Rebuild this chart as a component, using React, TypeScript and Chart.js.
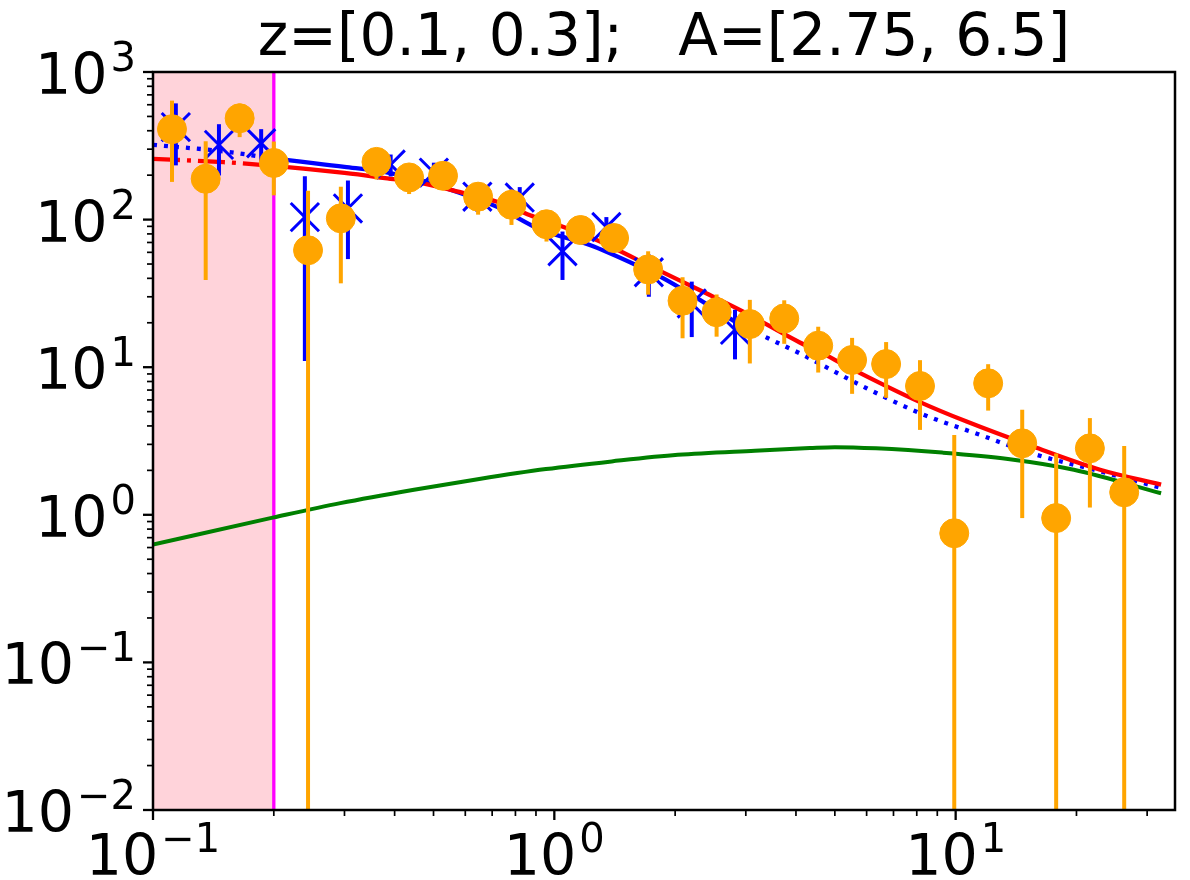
import { useEffect, useRef } from "react";
import { Chart, registerables } from "chart.js";
import type { Plugin } from "chart.js";

Chart.register(...registerables);

const TITLE = "z=[0.1, 0.3];   A=[2.75, 6.5]";
const FONT = '"DejaVu Sans", sans-serif';

const X_MIN = 0.1;
const X_MAX = 35.2;
const Y_MIN = 0.01;
const Y_MAX = 1000;
const FIT_MIN = 0.2; // shaded region ends here (magenta line)
const BLUE_FIT_MAX = 3.0; // blue model drawn solid inside [FIT_MIN, BLUE_FIT_MAX]

// measured profile (orange circles), symmetric errors
const orangeX = [0.1115, 0.1353, 0.1644, 0.2, 0.2434, 0.2938, 0.3605, 0.4347, 0.528, 0.6457, 0.782, 0.956, 1.162, 1.409, 1.713, 2.087, 2.537, 3.07, 3.74, 4.545, 5.52, 6.71, 8.15, 9.92, 12.05, 14.65, 17.8, 21.6, 26.3];
const orangeY = [410, 189, 486, 242, 62, 102, 246, 193, 198, 143, 126, 93, 85, 75, 46, 28.2, 23.6, 19.6, 21.4, 14.0, 11.2, 10.5, 7.46, 0.75, 7.78, 3.05, 0.95, 2.82, 1.42];
const orangeErr = [230, 150, 124, 96, 95, 65, 59, 44, 30, 35, 34, 22, 15, 12, 15, 12.5, 7.5, 9, 7, 4.8, 4.6, 4.3, 3.7, 2.72, 2.7, 2.1, 1.65, 1.7, 1.5];

// second profile (blue crosses)
const blueX = [0.114, 0.146, 0.186, 0.239, 0.306, 0.391, 0.501, 0.643, 0.82, 1.048, 1.348, 1.72, 2.2, 2.82];
const blueY = [423, 321, 329, 104, 119, 236, 208, 143, 141, 61, 89, 44, 27, 17.9];
const blueErr = [190, 122, 81, 93, 65, 40, 35, 30, 25, 22, 15, 14, 11, 6.6];

// model curves
const redX = [0.1, 0.15, 0.2, 0.3, 0.374, 0.46, 0.58, 0.72, 0.87, 1.0, 1.27, 1.8, 2.39, 2.955, 4.09, 4.54, 5.45, 8.15, 10.65, 15.6, 22.9, 32.5];
const redY = [258, 245, 231, 207, 192, 178, 154, 132, 107, 94, 73, 46, 31.7, 23.8, 14.7, 12.9, 9.9, 5.8, 4.28, 2.9, 2.02, 1.6];

const blueModelX = [0.1, 0.15, 0.2, 0.3, 0.374, 0.47, 0.58, 0.72, 0.92, 1.23, 1.63, 1.87, 2.31, 3.0, 3.41, 4.09, 6.0, 8.15, 11.5, 15.6, 22.9, 32.5];
const blueModelY = [321, 290, 260, 228, 211, 183, 152, 122, 86, 67, 48, 40, 28.5, 18.5, 15.7, 12.4, 7.2, 4.88, 3.48, 2.59, 1.97, 1.52];

const greenX = [0.1, 0.2, 0.293, 0.447, 0.65, 0.953, 1.39, 2.03, 3.16, 4.33, 5.0, 6.33, 9.25, 13.5, 19.7, 32.5];
const greenY = [0.628, 0.96, 1.2, 1.48, 1.75, 2.04, 2.3, 2.55, 2.72, 2.83, 2.87, 2.82, 2.64, 2.39, 2.02, 1.4];

// axis ticks
const xMajorTicks = [0.1, 1, 10];
const xTickExponents = ["\u22121", "0", "1"];
const yMajorTicks = [0.01, 0.1, 1, 10, 100, 1000];
const yTickExponents = ["\u22122", "\u22121", "0", "1", "2", "3"];
const minorSteps = [2, 3, 4, 5, 6, 7, 8, 9];

const ORANGE = "#ffa500";
const BLUE = "#0000ff";
const RED = "#ff0000";
const GREEN = "#008000";

const pts = (xs: number[], ys: number[]) => xs.map((x, i) => ({ x, y: ys[i] }));

const errorSets: Record<string, { err: number[]; color: string }> = {
  data: { err: orangeErr, color: ORANGE },
  data2: { err: blueErr, color: BLUE },
};

const backdrop: Plugin<"scatter"> = {
  id: "backdrop",
  beforeDatasetsDraw(chart) {
    const { ctx, chartArea: a, scales } = chart;
    const xr = scales.x.getPixelForValue(FIT_MIN);
    ctx.save();
    ctx.fillStyle = "rgba(255,192,203,0.7)";
    ctx.fillRect(a.left, a.top, xr - a.left, a.bottom - a.top);
    ctx.strokeStyle = "#ff00ff";
    ctx.lineWidth = 3.3;
    ctx.beginPath();
    ctx.moveTo(xr, a.top);
    ctx.lineTo(xr, a.bottom);
    ctx.stroke();
    ctx.restore();
  },
};

const errorBars: Plugin<"scatter"> = {
  id: "errorBars",
  beforeDatasetDraw(chart, args) {
    const ds = chart.data.datasets[args.index];
    const set = errorSets[ds.label as string];
    if (!set) return;
    const { ctx, chartArea: a, scales } = chart;
    ctx.save();
    ctx.beginPath();
    ctx.rect(a.left, a.top, a.right - a.left, a.bottom - a.top);
    ctx.clip();
    ctx.strokeStyle = set.color;
    ctx.lineWidth = 4;
    (ds.data as { x: number; y: number }[]).forEach((p, i) => {
      const px = scales.x.getPixelForValue(p.x);
      const lo = p.y - set.err[i];
      const top = scales.y.getPixelForValue(p.y + set.err[i]);
      const bot = lo > 0 ? scales.y.getPixelForValue(lo) : a.bottom;
      ctx.beginPath();
      ctx.moveTo(px, top);
      ctx.lineTo(px, bot);
      ctx.stroke();
    });
    ctx.restore();
  },
};

function drawPow(ctx: CanvasRenderingContext2D, exp: string, x: number, y: number, align: "center" | "right") {
  const baseFont = `57px ${FONT}`;
  const expFont = `40px ${FONT}`;
  ctx.font = baseFont;
  const wb = ctx.measureText("10").width;
  ctx.font = expFont;
  const we = ctx.measureText(exp).width;
  const gap = 3;
  const total = wb + gap + we;
  const x0 = align === "center" ? x - total / 2 : x - total;
  ctx.textAlign = "left";
  ctx.textBaseline = "alphabetic";
  ctx.font = baseFont;
  ctx.fillText("10", x0, y);
  ctx.font = expFont;
  ctx.fillText(exp, x0 + wb + gap, y - 23);
}

const axesDecor: Plugin<"scatter"> = {
  id: "axesDecor",
  afterDraw(chart) {
    const { ctx, chartArea: a, scales } = chart;
    const seg = (x1: number, y1: number, x2: number, y2: number) => {
      ctx.beginPath();
      ctx.moveTo(x1, y1);
      ctx.lineTo(x2, y2);
      ctx.stroke();
    };
    ctx.save();
    ctx.strokeStyle = "#000";
    ctx.fillStyle = "#000";

    // minor ticks
    ctx.lineWidth = 1.7;
    xMajorTicks.forEach((d) =>
      minorSteps.forEach((m) => {
        const v = d * m;
        if (v <= X_MIN || v >= X_MAX) return;
        const px = scales.x.getPixelForValue(v);
        seg(px, a.bottom, px, a.bottom + 6);
      })
    );
    yMajorTicks.forEach((d) =>
      minorSteps.forEach((m) => {
        const v = d * m;
        if (v <= Y_MIN || v >= Y_MAX) return;
        const py = scales.y.getPixelForValue(v);
        seg(a.left, py, a.left - 6, py);
      })
    );

    // major ticks + labels
    ctx.lineWidth = 2.3;
    xMajorTicks.forEach((v, i) => {
      const px = scales.x.getPixelForValue(v);
      seg(px, a.bottom, px, a.bottom + 10);
      drawPow(ctx, xTickExponents[i], px, a.bottom + 65, "center");
    });
    yMajorTicks.forEach((v, i) => {
      const py = scales.y.getPixelForValue(v);
      seg(a.left, py, a.left - 10, py);
      drawPow(ctx, yTickExponents[i], a.left - 17, py + 22, "right");
    });

    // frame
    ctx.lineWidth = 2.5;
    ctx.strokeRect(a.left, a.top, a.right - a.left, a.bottom - a.top);

    // title
    ctx.font = `58px ${FONT}`;
    ctx.textAlign = "center";
    ctx.textBaseline = "alphabetic";
    ctx.fillText(TITLE, (a.left + a.right) / 2, 55);
    ctx.restore();
  },
};

export default function App() {
  const canvasRef = useRef<HTMLCanvasElement>(null);

  useEffect(() => {
    const canvas = canvasRef.current;
    if (!canvas) return;

    const dashed = (ctx: any) => (ctx.p1.parsed.x <= FIT_MIN + 1e-9 ? [27, 7, 4, 7] : undefined);
    const dotted = (ctx: any) =>
      ctx.p1.parsed.x <= FIT_MIN + 1e-9 || ctx.p0.parsed.x >= BLUE_FIT_MAX - 1e-9 ? [4, 7] : undefined;

    const curve = {
      showLine: true,
      pointRadius: 0,
      borderWidth: 4.3,
      borderCapStyle: "butt" as const,
      cubicInterpolationMode: "monotone" as const,
    };

    const chart = new Chart(canvas, {
      type: "scatter",
      data: {
        datasets: [
          {
            label: "data",
            data: pts(orangeX, orangeY),
            pointRadius: 14.5,
            pointBackgroundColor: ORANGE,
            pointBorderColor: ORANGE,
            pointBorderWidth: 1,
            order: 0,
          },
          {
            label: "data2",
            data: pts(blueX, blueY),
            pointStyle: "crossRot",
            pointRadius: 20,
            pointBorderColor: BLUE,
            pointBorderWidth: 3,
            order: 1,
          },
          {
            label: "total",
            data: pts(redX, redY),
            borderColor: RED,
            segment: { borderDash: dashed },
            ...curve,
            order: 2,
          },
          {
            label: "model",
            data: pts(blueModelX, blueModelY),
            borderColor: BLUE,
            segment: { borderDash: dotted },
            ...curve,
            order: 3,
          },
          {
            label: "extra",
            data: pts(greenX, greenY),
            borderColor: GREEN,
            ...curve,
            borderWidth: 4,
            order: 4,
          },
        ],
      },
      options: {
        animation: false,
        responsive: false,
        events: [],
        layout: { autoPadding: false, padding: { left: 153, top: 72, right: 15, bottom: 70 } },
        plugins: {
          legend: { display: false },
          tooltip: { enabled: false },
        },
        scales: {
          x: { type: "logarithmic", min: X_MIN, max: X_MAX, display: false },
          y: { type: "logarithmic", min: Y_MIN, max: Y_MAX, display: false },
        },
      },
      plugins: [backdrop, errorBars, axesDecor],
    });

    return () => chart.destroy();
  }, []);

  return (
    <div style={{ position: "fixed", left: 0, top: 0, width: 1190, height: 880, background: "#fff" }}>
      <canvas ref={canvasRef} width={1190} height={880} />
    </div>
  );
}
